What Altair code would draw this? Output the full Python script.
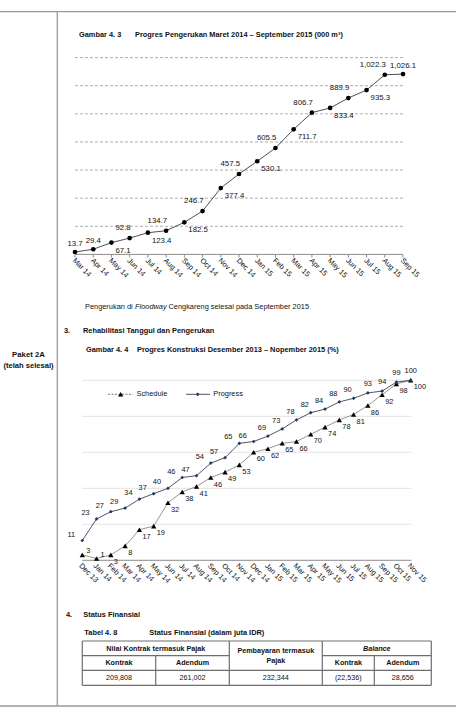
import altair as alt
import pandas as pd

W, H = 456, 722
FONT = "'Liberation Sans Narrow', 'Arial Narrow', 'Liberation Sans', Arial, sans-serif"
INK = "#111111"
FS = 7.4          # body / title text size
FS_LAB = 7.8      # data labels on the dredging chart
FS_TAB = 7.2      # table text

# ---- Gambar 4.3: dredging progress (000 m3) ----
dredge_months = ["Mar 14", "Apr 14", "May 14", "Jun 14", "Jul 14", "Aug 14", "Sep 14",
                 "Oct 14", "Nov 14", "Dec 14", "Jan 15", "Feb 15", "Mar 15", "Apr 15",
                 "May 15", "Jun 15", "Jul 15", "Aug 15", "Sep 15"]
dredge_values = [13.7, 29.4, 67.1, 92.8, 123.4, 134.7, 182.5, 246.7, 377.4, 457.5,
                 530.1, 605.5, 711.7, 806.7, 833.4, 889.9, 935.3, 1022.3, 1026.1]
dredge_grid = [160, 320, 480, 640, 800, 960, 1120]

# ---- Gambar 4.4: construction progress (%) ----
cons_months = ["Dec 13", "Jan 14", "Feb 14", "Mar 14", "Apr 14", "May 14", "Jun 14",
               "Jul 14", "Aug 14", "Sep 14", "Oct 14", "Nov 14", "Dec 14", "Jan 15",
               "Feb 15", "Mar 15", "Apr 15", "May 15", "Jun 15", "Jul 15", "Aug 15",
               "Sep 15", "Oct 15", "Nov 15"]
schedule = [3, 1, 3, 8, 17, 19, 32, 38, 41, 46, 49, 53, 60, 62, 65, 66, 70, 74, 78,
            81, 86, 92, 98, 100]
progress = [11, 23, 27, 29, 34, 37, 40, 46, 47, 54, 57, 65, 66, 69, 73, 78, 82, 84,
            88, 90, 93, 94, 99, 100]
cons_grid = [20, 40, 60, 80, 100]

# ---- Tabel 4.8: financial status (juta IDR) ----
fin_header_top = ["Nilai Kontrak termasuk Pajak", "Pembayaran termasuk", "Balance"]
fin_header_sub = ["Kontrak", "Adendum", "Kontrak", "Adendum"]
fin_values = ["209,808", "261,002", "232,344", "(22,536)", "28,656"]

one = pd.DataFrame({"k": [0]})


def label(x, y, s, size=FS, weight="normal", style="normal", align="left",
          color=INK, baseline="middle"):
    return alt.Chart(one).mark_text(
        text=s, font=FONT, fontSize=size, fontWeight=weight, fontStyle=style,
        align=align, baseline=baseline, color=color,
    ).encode(x=alt.value(x), y=alt.value(y))


def hline(x1, x2, y, color="#999999", width=1.3, dash=None):
    kw = dict(color=color, strokeWidth=width)
    if dash:
        kw["strokeDash"] = dash
    return alt.Chart(one).mark_rule(**kw).encode(
        x=alt.value(x1), x2=alt.value(x2), y=alt.value(y))


def vline(x, y1, y2, color="#999999", width=1.3):
    return alt.Chart(one).mark_rule(color=color, strokeWidth=width).encode(
        x=alt.value(x), y=alt.value(y1), y2=alt.value(y2))


layers = []

# page frame and row heading
layers += [hline(0, W, 11.7), vline(57.3, 11.7, 706), hline(0, W, 706)]
layers += [label(28.5, 355, "Paket 2A", 7.8, "bold", align="center"),
           label(28.5, 365.5, "(telah selesai)", 7.6, "bold", align="center")]

# ---------------- chart 1 ----------------
x1 = alt.Scale(domain=[0, len(dredge_months) - 1], range=[75, 403], nice=False, zero=False)
y1 = alt.Scale(domain=[0, 1120], range=[254.4, 57.6], nice=False, zero=False)
n1 = len(dredge_values)
d1 = pd.DataFrame({
    "i": range(n1),
    "month": dredge_months,
    "v": dredge_values,
    "txt": [f"{v:,.1f}" for v in dredge_values],
    "side": ["above" if i in (0, 1, n1 - 1) else ("below" if i % 2 == 0 else "left")
             for i in range(n1)],
})
g1 = pd.DataFrame({"v": dredge_grid})

layers.append(label(79, 35, "Gambar 4. 3", FS, "bold"))
layers.append(label(135, 35, "Progres Pengerukan Maret 2014 \u2013 September 2015 (000 m\u00b3)", FS, "bold"))

layers.append(alt.Chart(g1).mark_rule(color="#a6a6a6", strokeWidth=0.9, strokeDash=[3, 2]).encode(
    y=alt.Y("v:Q", scale=y1, axis=None), x=alt.value(75), x2=alt.value(403)))
layers.append(alt.Chart(pd.DataFrame({"v": [0]})).mark_rule(color="#8c8c8c", strokeWidth=1).encode(
    y=alt.Y("v:Q", scale=y1, axis=None), x=alt.value(75), x2=alt.value(403)))
layers.append(alt.Chart(d1).mark_rule(color="#8c8c8c", strokeWidth=1).encode(
    x=alt.X("i:Q", scale=x1, axis=None), y=alt.value(254.4), y2=alt.value(257.5)))
layers.append(alt.Chart(d1).mark_line(color="#3c3c3c", strokeWidth=0.9).encode(
    x=alt.X("i:Q", scale=x1, axis=None), y=alt.Y("v:Q", scale=y1, axis=None)))
layers.append(alt.Chart(d1).mark_circle(color="#000000", size=22, opacity=1).encode(
    x=alt.X("i:Q", scale=x1, axis=None), y=alt.Y("v:Q", scale=y1, axis=None)))

for side, kw in {"above": dict(align="center", dy=-8),
                 "left": dict(align="right", dx=1, dy=-10),
                 "below": dict(align="left", dx=4, dy=8)}.items():
    layers.append(alt.Chart(d1).transform_filter(alt.datum.side == side).mark_text(
        font=FONT, fontSize=FS_LAB, color=INK, baseline="middle", **kw).encode(
        x=alt.X("i:Q", scale=x1, axis=None), y=alt.Y("v:Q", scale=y1, axis=None),
        text="txt:N"))

layers.append(alt.Chart(d1).mark_text(
    font=FONT, fontSize=FS, color=INK, angle=45, align="left", baseline="middle", dx=-2).encode(
    x=alt.X("i:Q", scale=x1, axis=None), y=alt.value(261), text="month:N"))

# caption
layers += [label(85, 307, "Pengerukan di"),
           label(135, 307, "Floodway", style="italic"),
           label(168.5, 307, "Cengkareng selesai pada September 2015")]

layers += [label(64, 331, "3.", FS, "bold"),
           label(83, 331, "Rehabilitasi Tanggul dan Pengerukan", FS, "bold"),
           label(86, 349.5, "Gambar 4. 4", FS, "bold"),
           label(137, 349.5, "Progres Konstruksi Desember 2013 \u2013 Nopember 2015 (%)", FS, "bold")]

# ---------------- chart 2 ----------------
x2s = alt.Scale(domain=[0, len(cons_months) - 1], range=[82.3, 410.7], nice=False, zero=False)
y2s = alt.Scale(domain=[0, 100], range=[560.3, 380.3], nice=False, zero=False)
n2 = len(cons_months)
d2 = pd.DataFrame({
    "i": range(n2),
    "month": cons_months,
    "s": schedule,
    "p": progress,
    # label placement groups: schedule labels sit right of the first two
    # triangles (they touch the baseline) and below-right elsewhere
    "sg": ["r" if i < 2 else "br" for i in range(n2)],
    "pg": ["a" if i <= 12 else ("b" if i < 20 else "c") for i in range(n2)],
})
g2 = pd.DataFrame({"v": cons_grid})

layers.append(alt.Chart(g2).mark_rule(color="#e3e3e3", strokeWidth=1).encode(
    y=alt.Y("v:Q", scale=y2s, axis=None), x=alt.value(82.3), x2=alt.value(411.5)))
layers.append(alt.Chart(pd.DataFrame({"v": [0]})).mark_rule(color="#8c8c8c", strokeWidth=1).encode(
    y=alt.Y("v:Q", scale=y2s, axis=None), x=alt.value(82.3), x2=alt.value(411.5)))

layers.append(alt.Chart(d2).mark_line(color="#7a7a7a", strokeWidth=0.8).encode(
    x=alt.X("i:Q", scale=x2s, axis=None), y=alt.Y("s:Q", scale=y2s, axis=None)))
layers.append(alt.Chart(d2).mark_line(color="#3b4252", strokeWidth=0.9).encode(
    x=alt.X("i:Q", scale=x2s, axis=None), y=alt.Y("p:Q", scale=y2s, axis=None)))
layers.append(alt.Chart(d2).mark_point(shape="triangle-up", filled=True, color="#000000",
                                       size=28, opacity=1).encode(
    x=alt.X("i:Q", scale=x2s, axis=None), y=alt.Y("s:Q", scale=y2s, axis=None)))
layers.append(alt.Chart(d2).mark_point(shape="diamond", filled=True, color="#1f3a66",
                                       size=14, opacity=1).encode(
    x=alt.X("i:Q", scale=x2s, axis=None), y=alt.Y("p:Q", scale=y2s, axis=None)))

for grp, (dx, dy) in {"r": (4, -4), "br": (3, 7)}.items():
    layers.append(alt.Chart(d2).transform_filter(alt.datum.sg == grp).mark_text(
        font=FONT, fontSize=FS, color=INK, align="left", baseline="middle", dx=dx, dy=dy).encode(
        x=alt.X("i:Q", scale=x2s, axis=None), y=alt.Y("s:Q", scale=y2s, axis=None), text="s:Q"))
for grp, (dx, dy) in {"a": (-11, -6), "b": (-6, -8), "c": (0, -9)}.items():
    layers.append(alt.Chart(d2).transform_filter(alt.datum.pg == grp).mark_text(
        font=FONT, fontSize=FS, color=INK, align="center", baseline="middle", dx=dx, dy=dy).encode(
        x=alt.X("i:Q", scale=x2s, axis=None), y=alt.Y("p:Q", scale=y2s, axis=None), text="p:Q"))

layers.append(alt.Chart(d2).mark_text(
    font=FONT, fontSize=FS, color=INK, angle=45, align="left", baseline="middle", dx=-3).encode(
    x=alt.X("i:Q", scale=x2s, axis=None), y=alt.value(567), text="month:N"))

# legend
layers += [hline(108, 133, 394.3, color="#555555", width=0.8, dash=[2, 1.5]),
           alt.Chart(one).mark_point(shape="triangle-up", filled=True, color="#000000",
                                     size=28, opacity=1).encode(
               x=alt.value(120.7), y=alt.value(394.3)),
           label(136.5, 394.3, "Schedule"),
           hline(186, 210, 394.3, color="#3b4252", width=0.9),
           alt.Chart(one).mark_point(shape="diamond", filled=True, color="#1f3a66",
                                     size=14, opacity=1).encode(
               x=alt.value(197.7), y=alt.value(394.3)),
           label(213.3, 394.3, "Progress")]

# ---------------- table ----------------
layers += [label(66, 615, "4.", FS, "bold"),
           label(83.3, 615, "Status Finansial", FS, "bold"),
           label(84.3, 633.3, "Tabel 4. 8", FS, "bold"),
           label(149.3, 633.3, "Status Finansial (dalam juta IDR)", FS, "bold")]

TL, TR = 82.3, 431.3
ROW = [641, 655.7, 670.3, 685.3]
COL = [82.3, 155.7, 229.3, 322.3, 374.3, 431.3]
tc = "#6e6e6e"
layers += [hline(TL, TR, ROW[0], tc, 1.2), hline(TL, TR, ROW[2], tc, 1.2),
           hline(TL, TR, ROW[3], tc, 1.2),
           hline(COL[0], COL[2], ROW[1], tc, 1.2), hline(COL[3], COL[5], ROW[1], tc, 1.2),
           vline(COL[0], ROW[0], ROW[3], tc, 1.2), vline(COL[2], ROW[0], ROW[3], tc, 1.2),
           vline(COL[3], ROW[0], ROW[3], tc, 1.2), vline(COL[5], ROW[0], ROW[3], tc, 1.2),
           vline(COL[1], ROW[1], ROW[3], tc, 1.2), vline(COL[4], ROW[1], ROW[3], tc, 1.2)]

layers += [label((COL[0] + COL[2]) / 2, 648.5, fin_header_top[0], FS_TAB, "bold", align="center"),
           label((COL[2] + COL[3]) / 2, 651, fin_header_top[1], FS_TAB, "bold", align="center"),
           label((COL[2] + COL[3]) / 2, 660.7, "Pajak", FS_TAB, "bold", align="center"),
           label((COL[3] + COL[5]) / 2, 648.5, fin_header_top[2], FS_TAB, "bold", style="italic",
                 align="center")]
sub_cols = [(COL[0] + COL[1]) / 2, (COL[1] + COL[2]) / 2,
            (COL[3] + COL[4]) / 2, (COL[4] + COL[5]) / 2]
for cx, s in zip(sub_cols, fin_header_sub):
    layers.append(label(cx, 663.3, s, FS_TAB, "bold", align="center"))
val_cols = [sub_cols[0], sub_cols[1], (COL[2] + COL[3]) / 2, sub_cols[2], sub_cols[3]]
for cx, s in zip(val_cols, fin_values):
    layers.append(label(cx, 678.3, s, FS_TAB, align="center"))

chart = alt.layer(*layers).resolve_scale(x="independent", y="independent").properties(
    width=W, height=H, autosize=alt.AutoSizeParams(type="none"), padding=0,
    background="white",
).configure_view(stroke=None)

chart.save("out.html", embed_options={"renderer": "svg", "actions": False})
